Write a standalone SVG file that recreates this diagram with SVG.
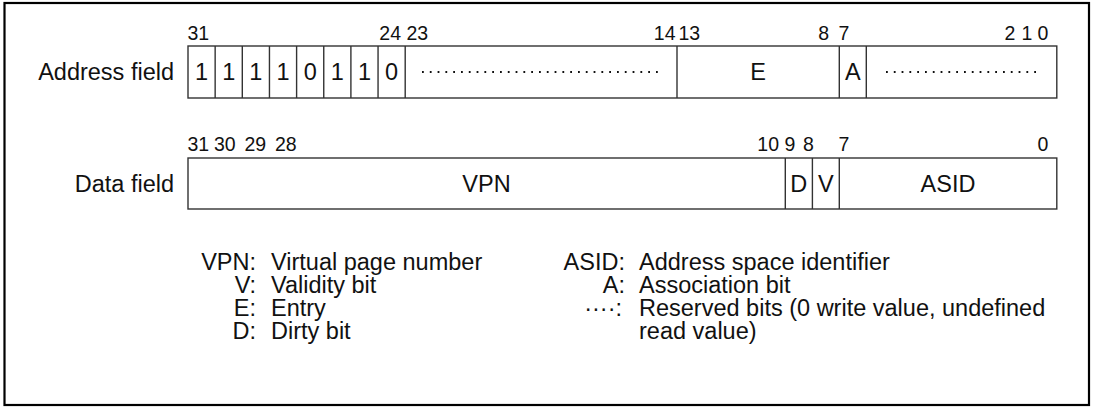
<svg xmlns="http://www.w3.org/2000/svg" width="1094" height="407" viewBox="0 0 1094 407">
<style>
text{font-family:"Liberation Sans",Arial,Helvetica,sans-serif;fill:#111}
.t{font-size:23.5px}
.n{font-size:19.5px}
.m{text-anchor:middle}
.e{text-anchor:end}
.box{fill:#fff;stroke:#333;stroke-width:1.4}
.sep{stroke:#333;stroke-width:1.4}
.dots{stroke:#111;stroke-width:2;stroke-dasharray:1.8 6;fill:none}
</style>
<rect x="4.5" y="3" width="1084.5" height="402" fill="#fff" stroke="#000" stroke-width="2.2"/>

<g id="address-field">
  <text class="t e" x="174" y="80">Address field</text>
  <rect class="box" x="188" y="46" width="868.8" height="52"/>
  <g class="sep">
    <line x1="215.15" y1="46" x2="215.15" y2="98"/>
    <line x1="242.3" y1="46" x2="242.3" y2="98"/>
    <line x1="269.45" y1="46" x2="269.45" y2="98"/>
    <line x1="296.6" y1="46" x2="296.6" y2="98"/>
    <line x1="323.75" y1="46" x2="323.75" y2="98"/>
    <line x1="350.9" y1="46" x2="350.9" y2="98"/>
    <line x1="378.05" y1="46" x2="378.05" y2="98"/>
    <line x1="405.2" y1="46" x2="405.2" y2="98"/>
    <line x1="677" y1="46" x2="677" y2="98"/>
    <line x1="839.3" y1="46" x2="839.3" y2="98"/>
    <line x1="866.3" y1="46" x2="866.3" y2="98"/>
  </g>
  <text class="t m" x="201.6" y="80">1</text>
  <text class="t m" x="228.7" y="80">1</text>
  <text class="t m" x="255.9" y="80">1</text>
  <text class="t m" x="283" y="80">1</text>
  <text class="t m" x="310.2" y="80">0</text>
  <text class="t m" x="337.3" y="80">1</text>
  <text class="t m" x="364.5" y="80">1</text>
  <text class="t m" x="391.6" y="80">0</text>
  <path class="dots" d="M422 72H658"/>
  <text class="t m" x="758" y="80">E</text>
  <text class="t m" x="852.8" y="80">A</text>
  <path class="dots" d="M886 72H1037"/>
  <text class="n" x="187.5" y="40">31</text>
  <text class="n e" x="401" y="40">24</text>
  <text class="n" x="406.5" y="40">23</text>
  <text class="n e" x="675.5" y="40">14</text>
  <text class="n" x="678.5" y="40">13</text>
  <text class="n e" x="829" y="40">8</text>
  <text class="n" x="838.5" y="40">7</text>
  <text class="n m" x="1010" y="40">2</text>
  <text class="n m" x="1027" y="40">1</text>
  <text class="n m" x="1043" y="40">0</text>
</g>

<g id="data-field">
  <text class="t e" x="174" y="191.5">Data field</text>
  <rect class="box" x="188" y="158" width="868.8" height="51"/>
  <g class="sep">
    <line x1="785.3" y1="158" x2="785.3" y2="209"/>
    <line x1="812.4" y1="158" x2="812.4" y2="209"/>
    <line x1="839.3" y1="158" x2="839.3" y2="209"/>
  </g>
  <text class="t m" x="486.5" y="191.5">VPN</text>
  <text class="t m" x="798.8" y="191.5">D</text>
  <text class="t m" x="825.9" y="191.5">V</text>
  <text class="t m" x="948" y="191.5">ASID</text>
  <text class="n" x="187.5" y="151">31</text>
  <text class="n" x="214" y="151">30</text>
  <text class="n" x="244.5" y="151">29</text>
  <text class="n" x="275" y="151">28</text>
  <text class="n e" x="779" y="151">10</text>
  <text class="n m" x="790" y="151">9</text>
  <text class="n m" x="808.5" y="151">8</text>
  <text class="n" x="838.5" y="151">7</text>
  <text class="n m" x="1043" y="151">0</text>
</g>

<g id="legend">
  <text class="t e" x="256" y="270">VPN:</text>
  <text class="t" x="271" y="270">Virtual page number</text>
  <text class="t e" x="256" y="293">V:</text>
  <text class="t" x="271" y="293">Validity bit</text>
  <text class="t e" x="256" y="316">E:</text>
  <text class="t" x="271" y="316">Entry</text>
  <text class="t e" x="256" y="339">D:</text>
  <text class="t" x="271" y="339">Dirty bit</text>
  <text class="t e" x="625" y="270">ASID:</text>
  <text class="t" x="639" y="270">Address space identifier</text>
  <text class="t e" x="625" y="293">A:</text>
  <text class="t" x="639" y="293">Association bit</text>
  <text class="t e" x="622" y="316">····:</text>
  <text class="t" x="639" y="316">Reserved bits (0 write value, undefined</text>
  <text class="t" x="639" y="339">read value)</text>
</g>
</svg>
